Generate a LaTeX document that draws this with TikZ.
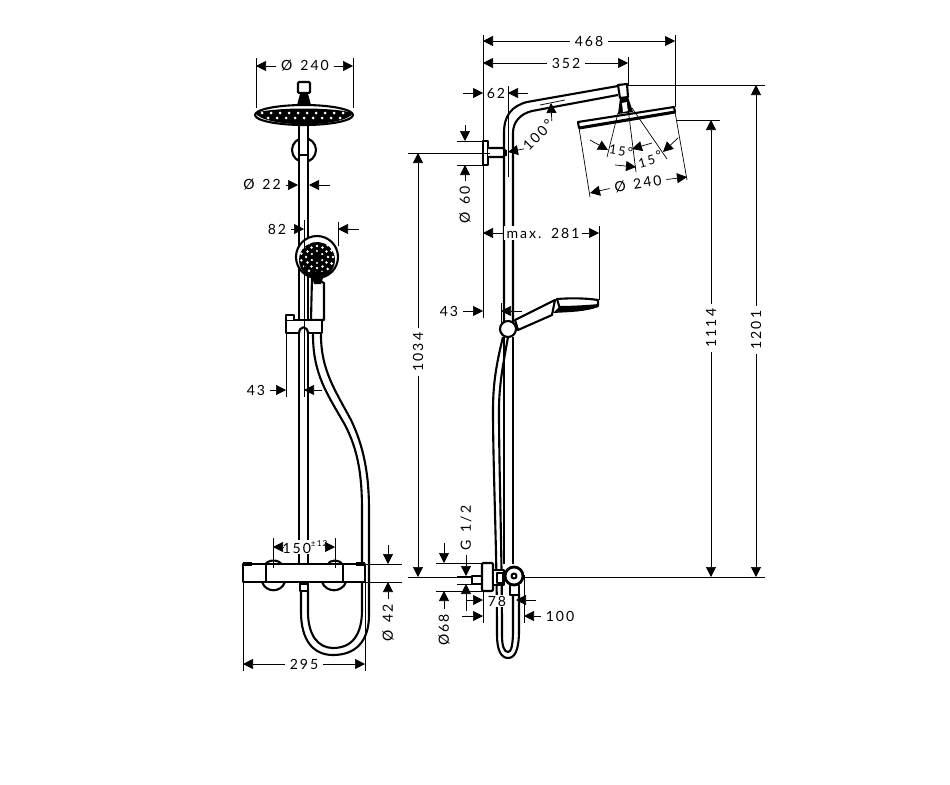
\documentclass[tikz,border=0pt]{standalone}
\usepackage{fontspec}
\usetikzlibrary{arrows.meta}
\newfontfamily\dimfont[LetterSpace=14]{Lato}
\tikzset{
  part/.style={line width=1.8pt, line join=round},
  fitting/.style={part, fill=white},
  thinline/.style={line width=0.6pt},
  dimarrow/.style={line width=0.6pt, -{Triangle[length=0.3cm,width=0.3cm]}},
  dimlabel/.style={inner sep=4pt, font=\dimfont\fontsize{12}{14}\selectfont},
  smalllabel/.style={inner sep=1pt, font=\dimfont\fontsize{11}{13}\selectfont}
}
\begin{document}
\begin{tikzpicture}[x=0.03cm,y=-0.03cm]
    \useasboundingbox (0,0) rectangle (950,785);

    % Front view: hose behind everything
    \draw[part] (313,335) .. controls (313,375) and (328,395) .. (345,425) .. controls (358,450) and (362,475) .. (362,510) -- (362,610)
      .. controls (362,635) and (352,648) .. (333,648) .. controls (318,648) and (308,635) .. (308,612) -- (308,590);
    \draw[part] (321,335) .. controls (321,370) and (335,390) .. (351,420) .. controls (364,447) and (369,475) .. (369,510) -- (369,615)
      .. controls (369,642) and (355,655) .. (333,655) .. controls (313,655) and (301,640) .. (301,612) -- (301,590);

    % Front view: bracket and rail
    \draw[part] (304,150) circle[radius=12];
    \fill[white] (299,126) rectangle (308,564);
    \draw[part] (299,126) -- (299,564);
    \draw[part] (308,126) -- (308,564);
    \draw[part] (299,155) -- (308,155);

    % Front view: head
    \draw[fitting, rounded corners=1pt] (298,82) rectangle (310,93);
    \fill (300,94) -- (308,94) -- (311,105) -- (297,105) -- cycle;
    \draw[part, fill=white] (304,115) ellipse[x radius=49, y radius=10];
    \fill (255,113) .. controls (275,107) and (333,107) .. (353,113) .. controls (345,128) and (265,128) .. (255,113);
    \foreach \x in {-42,-33,...,42} \fill[white] ({304+\x},113) circle[radius=1.5];
    \foreach \x in {-36,-27,...,36} \fill[white] ({304+\x},118) circle[radius=1.5];

    % Front view: hand shower
    \draw[fitting] (312,277) -- (311,320) -- (324,320) -- (324,283) -- cycle;
    \draw[part, fill=white] (317,257) circle[radius=21];
    \fill (317,260) circle[radius=18];
    \foreach \i in {0,60,...,300} \fill[white] ({317+6*cos(\i+30)},{257+6*sin(\i+30)}) circle[radius=1.2];
    \foreach \i in {0,30,...,330} \fill[white] ({317+11*cos(\i)},{257+11*sin(\i)}) circle[radius=1.3];
    \foreach \i in {0,24,...,336} \fill[white] ({317+16*cos(\i)},{257+16*sin(\i)}) circle[radius=1.4];
    \fill (310,272) -- (325,272) -- (321,284) -- (314,284) -- cycle;
    \draw[fitting] (286,320) rectangle (322,333);
    \draw[part, fill=white] (299,334) .. controls (299,325) and (308,325) .. (308,334);
    \draw[fitting] (286,320) -- (286,315) -- (294,315) -- (294,320);
    \draw[part] (313,333) -- (313,338);
    \draw[part] (321,333) -- (321,338);

    % Front view: thermostat
    \draw[part] (265,565) .. controls (268,559) and (279,559) .. (282,565);
    \draw[part] (327,565) .. controls (330,559) and (340,559) .. (343,565);
    \draw[part] (262,582) .. controls (266,593) and (281,593) .. (285,582);
    \draw[part] (322,582) .. controls (326,593) and (342,593) .. (346,582);
    \draw[fitting] (243,564) rectangle (365,582);
    \draw[line width=2.4pt] (243,564) -- (365,564);
    \draw[line width=2.4pt] (266,564) -- (266,582);
    \draw[line width=2.4pt] (343,564) -- (343,582);
    \fill (243,562) rectangle (252,566);
    \fill (356,562) rectangle (365,566);
    \draw[fitting] (300,582) rectangle (308,591);
    \fill (300,582) rectangle (308,585);

    % Side view: hose
    \draw[part] (503,337) .. controls (496,365) and (493,385) .. (493,410) .. controls (493,470) and (497,550) .. (497,635)
      .. controls (497,650) and (501,658) .. (508,658) .. controls (515,658) and (519,650) .. (519,630) -- (519,594);
    \draw[part] (508,337) .. controls (503,365) and (499,385) .. (499,410) .. controls (499,470) and (502,550) .. (502,635)
      .. controls (502,646) and (504,652) .. (508,652) .. controls (511,652) and (513,646) .. (513,630) -- (513,594);

    % Side view: rail and arm
    \draw[part] (504,330) -- (504,133) .. controls (504,115) and (512,106) .. (527,102) -- (618,86);
    \draw[part] (513,330) -- (513,133) .. controls (513,122) and (520,114) .. (532,111) -- (618,95);
    \draw[part] (513,337) -- (513,564);
    \draw[part] (504,337) -- (504,564);
    \draw[fitting] (483,141) rectangle (488,165);
    \draw[fitting] (488,148) -- (503,148) .. controls (506,150) and (506,155) .. (503,157) -- (488,157);
    \fill (503,150) rectangle (507,156);
    \draw[fitting] (618,85) -- (627,84) -- (628,97) -- (620,98) -- cycle;
    \fill (620,98) -- (628,97) -- (633,112) -- (618,114) -- cycle;
    \fill[white] (622,103) -- (627,102) -- (628,111) -- (623,112) -- cycle;
    \draw[fitting] (578,122) -- (674,107) -- (675,112) -- (579,128) -- cycle;
    \draw[line width=2.6pt] (579,128) -- (675,112);

    % Side view: hand shower
    \draw[fitting] (515,320) -- (555,300) -- (552,315) -- (518,330) -- cycle;
    \draw[fitting] (557,299) .. controls (570,298) and (585,298) .. (598,300) -- (598,306) .. controls (585,310) and (570,310) .. (560,309) -- cycle;
    \fill (560,306) .. controls (572,306) and (588,305) .. (599,304) -- (598,307) .. controls (585,312) and (570,312) .. (553,313) -- cycle;
    \draw[part, fill=white] (508,329) circle[radius=8];

    % Side view: valve
    \draw[fitting] (472,576) rectangle (482,584);
    \draw[fitting, rounded corners=1pt] (482,563) rectangle (493,591);
    \draw[fitting] (493,570) rectangle (504,585);
    \draw[fitting] (497,573) rectangle (503,583);
    \draw[fitting] (510,585) rectangle (519,595);
    \draw[line width=2.4pt, fill=white] (514,576) circle[radius=9];
    \draw[part] (514,576) circle[radius=2.5];

    % Extension lines
    \foreach \xa/\ya/\yb in {256/58/108, 353/58/108, 304/220/397, 338/222/246, 286/333/397, 243/582/671, 365/582/671,
        273/538/568, 335/538/568, 483/35/318, 675/35/107, 628/57/85, 508/86/177, 599/226/300, 501/303/325, 483/591/623, 524/575/623}
      \draw[thinline] (\xa,\ya) -- (\xa,\yb);
    \foreach \ya/\xa/\xb in {564/366/402, 582/366/402, 85/628/765, 120/676/720, 577/408/472, 577/525/765, 153/408/490,
        141/457/483, 165/457/483, 563/436/482, 591/436/482, 576/457/472, 584/457/472}
      \draw[thinline] (\xa,\ya) -- (\xb,\ya);
    \draw[thinline] (540,105) -- (565,100);
    \draw[thinline] (627,100) -- (636,172);
    \draw[thinline] (618,113) -- (607,157);
    \draw[thinline] (632,108) -- (667,159);
    \draw[thinline] (579,128) -- (590,197);
    \draw[thinline] (675,112) -- (687,180);

    % Front view dimensions
    \node[dimlabel] (headdia) at (305,66) {Ø\, 240};
    \draw[dimarrow] (headdia.west) -- (256,66);
    \draw[dimarrow] (headdia.east) -- (353,66);
    \node[dimlabel] (raildia) at (262,185) {Ø\, 22};
    \draw[dimarrow] (raildia.east) -- (298,185);
    \draw[dimarrow] (330,185) -- (309,185);
    \node[dimlabel] (showerdepth) at (277,229) {82};
    \draw[dimarrow] (showerdepth.east) -- (304,229);
    \draw[dimarrow] (359,229) -- (338,229);
    \node[dimlabel] (holderleft) at (256,390) {43};
    \draw[dimarrow] (holderleft.east) -- (286,390);
    \draw[dimarrow] (322,390) -- (304,390);
    \node[dimlabel, inner sep=0pt, fill=white] (valvepitch) at (305,547) {150\raisebox{1ex}{\fontsize{7}{8}\selectfont ±12}};
    \draw[dimarrow] (283,547) -- (273,547);
    \draw[dimarrow] (325,547) -- (335,547);
    \draw[dimarrow] (388,545) -- (388,564);
    \node[dimlabel, rotate=90] (bodydia) at (388,623) {Ø\, 42};
    \draw[dimarrow] (bodydia.east) -- (388,582);
    \node[dimlabel] (bodywidth) at (304,664) {295};
    \draw[dimarrow] (bodywidth.west) -- (243,664);
    \draw[dimarrow] (bodywidth.east) -- (365,664);

    % Side view dimensions
    \node[dimlabel, fill=white] (reachmax) at (589,41) {468};
    \draw[dimarrow] (reachmax.west) -- (483,41);
    \draw[dimarrow] (reachmax.east) -- (675,41);
    \node[dimlabel, fill=white] (reacharm) at (566,63) {352};
    \draw[dimarrow] (reacharm.west) -- (483,63);
    \draw[dimarrow] (reacharm.east) -- (628,63);
    \node[dimlabel] (wallrail) at (496,93) {62};
    \draw[dimarrow] (463,93) -- (483,93);
    \draw[dimarrow] (528,93) -- (508,93);
    \draw[dimarrow] (465,125) -- (465,141);
    \node[dimlabel, rotate=90] (flangedia) at (465,205) {Ø\, 60};
    \draw[dimarrow] (flangedia.east) -- (465,165);
    \node[dimlabel, inner sep=1pt, rotate=45] (armangle) at (538,135) {100°};
    \draw[dimarrow] (armangle.west) -- (508,152);
    \draw[dimarrow] (armangle.east) -- (551,103);
    \node[smalllabel, rotate=-8] (tiltleft) at (621,151) {15°};
    \node[smalllabel, rotate=15] (tiltright) at (650,159) {15\,\raisebox{0.5ex}{°}};
    \draw[dimarrow] (590,140) -- (608,150);
    \draw[dimarrow] (652,143) -- (632,149);
    \draw[dimarrow] (678,138) -- (663,152);
    \draw[dimarrow] (615,165) -- (636,167);
    \node[dimlabel, rotate=9] (platedia) at (638,184) {Ø\, 240};
    \draw[dimarrow] (platedia.west) -- (590,193);
    \draw[dimarrow] (platedia.east) -- (687,177);
    \node[dimlabel, inner sep=2pt, fill=white] (showerreach) at (543,233) {max.\, 281};
    \draw[dimarrow] (showerreach.west) -- (483,233);
    \draw[dimarrow] (showerreach.east) -- (599,233);
    \node[dimlabel] (holderright) at (449,311) {43};
    \draw[dimarrow] (holderright.east) -- (483,311);
    \draw[dimarrow] (522,311) -- (501,311);
    \node[dimlabel, rotate=90] (heightwall) at (418,352) {1034};
    \draw[dimarrow] (heightwall.east) -- (418,153);
    \draw[dimarrow] (heightwall.west) -- (418,577);
    \node[dimlabel, rotate=90] (heightplate) at (711,328) {1114};
    \draw[dimarrow] (heightplate.east) -- (711,120);
    \draw[dimarrow] (heightplate.west) -- (711,577);
    \node[dimlabel, rotate=90] (heighttop) at (756,330) {1201};
    \draw[dimarrow] (heighttop.east) -- (756,85);
    \draw[dimarrow] (heighttop.west) -- (756,577);
    \node[dimlabel, rotate=90] (threadsize) at (466,528) {G\, 1/2};
    \draw[dimarrow] (threadsize.west) -- (466,576);
    \draw[dimarrow] (466,611) -- (466,584);
    \draw[dimarrow] (444,543) -- (444,563);
    \node[dimlabel, rotate=90] (valvedia) at (444,630) {Ø68};
    \draw[dimarrow] (valvedia.east) -- (444,591);
    \node[dimlabel, inner sep=1pt, fill=white] (valvereach) at (497,601) {78};
    \draw[dimarrow] (467,600) -- (483,600);
    \draw[dimarrow] (536,600) -- (516,600);
    \node[dimlabel] (outletreach) at (560,616) {100};
    \draw[dimarrow] (462,616) -- (483,616);
    \draw[dimarrow] (outletreach.west) -- (524,616);
\end{tikzpicture}
\end{document}
